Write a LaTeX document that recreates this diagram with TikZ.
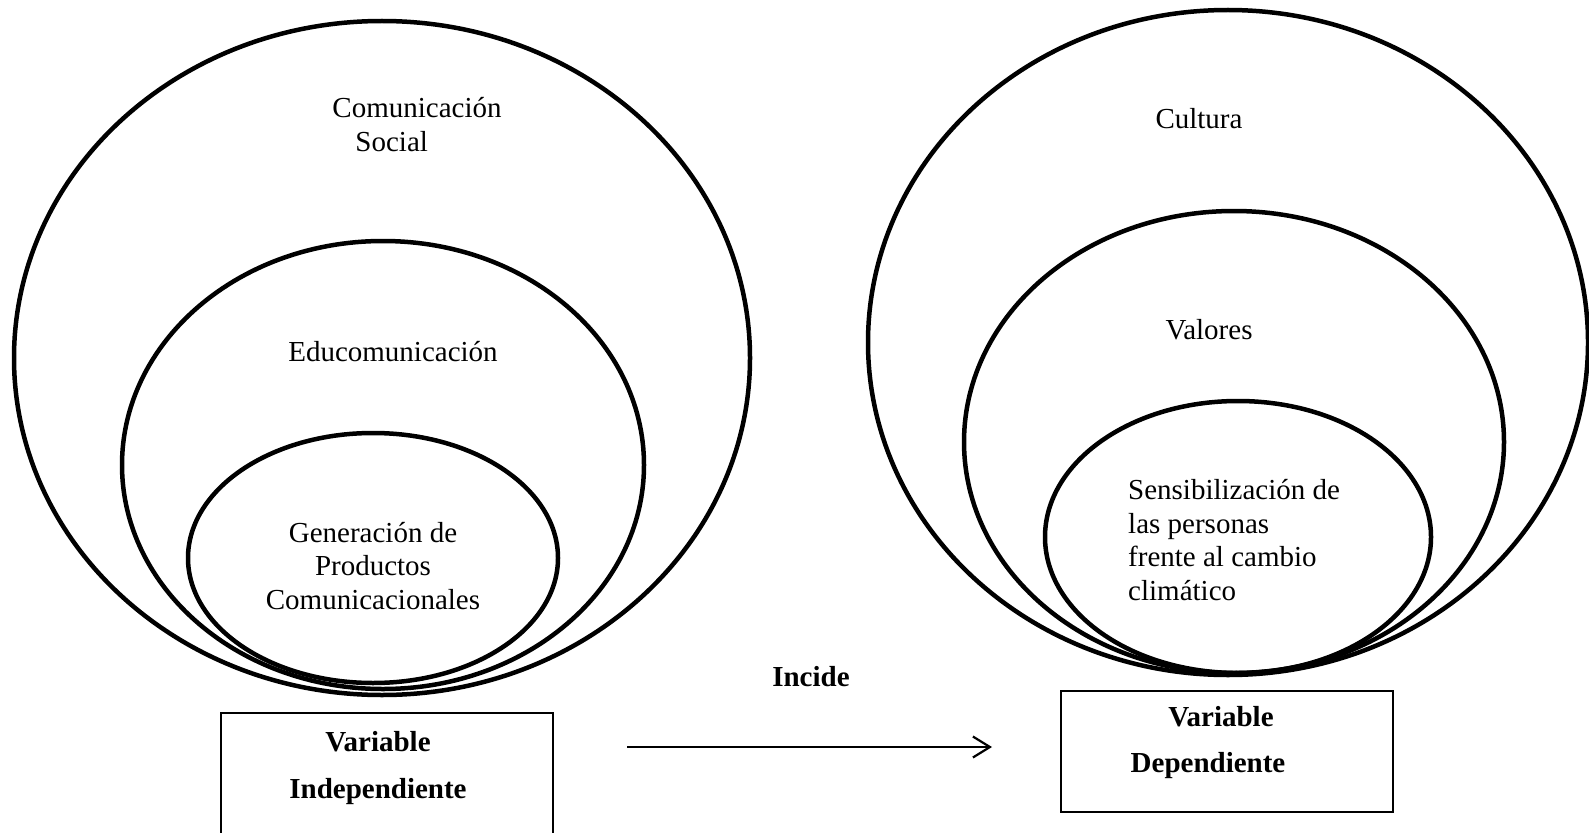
\documentclass[tikz,border=0pt]{standalone}
\usepackage{fontspec}
\setmainfont{Liberation Serif}
\usetikzlibrary{shapes.geometric,arrows.meta,positioning}

\begin{document}
\begin{tikzpicture}[
    x=1pt, y=-1pt,
    ring/.style={ellipse, draw, line width=4.5pt, inner sep=0pt},
    lbl/.style={font=\fontsize{29}{33.5}\selectfont, inner sep=0pt},
    bold/.style={font=\fontsize{29}{33.5}\selectfont\bfseries, inner sep=0pt},
    varbox/.style={draw, line width=1.4pt, inner sep=0pt},
]
\useasboundingbox (0,0) rectangle (1589,832);

% Left rings
\node[ring, minimum width=736pt, minimum height=674pt] (comL) at (382,358) {};
\node[ring, minimum width=522pt, minimum height=448pt] (eduL) at (383,465) {};
\node[ring, minimum width=370pt, minimum height=250pt] (genL) at (373,558) {};

% Right rings
\node[ring, minimum width=720pt, minimum height=665pt] (culR) at (1228,342.5) {};
\node[ring, minimum width=540pt, minimum height=462pt] (valR) at (1234,442) {};
\node[ring, minimum width=386pt, minimum height=272pt] (senR) at (1238,537) {};

% Ring labels
\node[lbl, align=left] (txtCom) at (417,124.5) {Comunicación\\\hspace*{23pt}Social};
\node[lbl] (txtEdu) at (393,352) {Educomunicación};
\node[lbl, align=center] (txtGen) at (373,566) {Generación de\\Productos\\Comunicacionales};
\node[lbl] (txtCul) at (1199,119) {Cultura};
\node[lbl] (txtVal) at (1209,330) {Valores};
\node[lbl, align=left, anchor=west] (txtSen) at (1128,540)
    {Sensibilización de\\las personas\\frente al cambio\\climático};

% Variable boxes
\node[varbox, minimum width=332pt, minimum height=150pt] (boxI) at (387,788) {};
\node[bold] (varI1) at (378,742) {Variable};
\node[bold] (varI2) at (378,792) {Independiente};
\node[varbox, minimum width=332pt, minimum height=121pt] (boxD) at (1227,751.5) {};
\node[bold] (varD1) at (1221,717) {Variable};
\node[bold] (varD2) at (1208,766) {Dependiente};

% Arrow
\node[bold] (incide) at (811,677) {Incide};
\coordinate (arrS) at (627,747);
\coordinate (arrE) at (992,747);
\draw[line width=2.2pt, -{Straight Barb[length=17pt, width=21pt, line width=2.2pt]}] (arrS) -- (arrE);

\end{tikzpicture}
\end{document}
